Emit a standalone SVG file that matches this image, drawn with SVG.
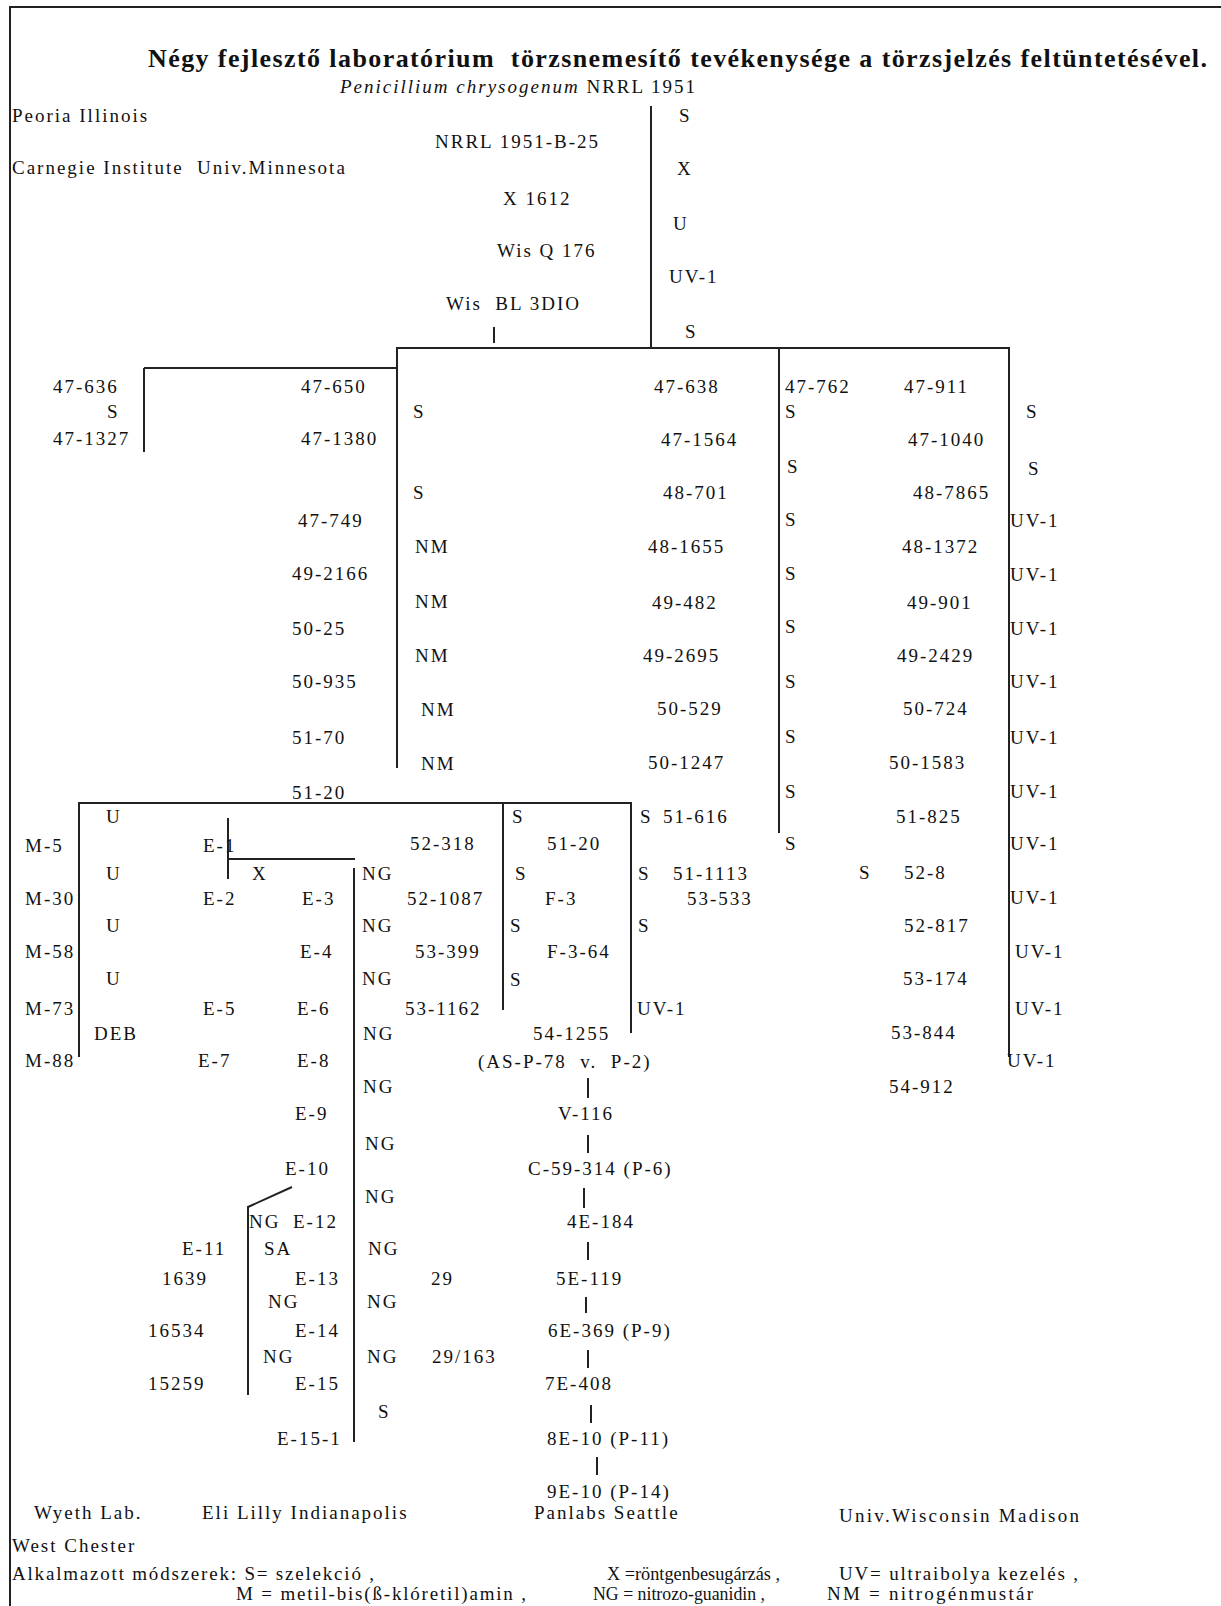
<svg xmlns="http://www.w3.org/2000/svg" width="1221" height="1606" viewBox="0 0 1221 1606">
<style>
text{font-family:"Liberation Serif","Times New Roman",serif;font-size:19px;letter-spacing:2px;fill:#111;white-space:pre}
.title{font-weight:bold;font-size:26px;letter-spacing:0}
.it{font-style:italic}
.f{letter-spacing:0}
#connectors line,#connectors polyline{stroke:#222;stroke-width:2;fill:none}
#frame line{stroke:#222;stroke-width:2}
</style>
<rect width="1221" height="1606" fill="#fff"/>
<g id="frame">
<line x1="10" y1="7" x2="1221" y2="7"/>
<line x1="10" y1="6" x2="10" y2="1606"/>
</g>
<g id="header">
<text class="title" x="148" y="67" textLength="1059">Négy fejlesztő laboratórium  törzsnemesítő tevékenysége a törzsjelzés feltüntetésével.</text>
<text x="340" y="93"><tspan class="it">Penicillium chrysogenum</tspan> NRRL 1951</text>
<text x="12" y="122">Peoria Illinois</text>
<text x="12" y="174">Carnegie Institute  Univ.Minnesota</text>
</g>
<g id="connectors">
<line x1="651" y1="106" x2="651" y2="348"/>
<line x1="494" y1="327" x2="494" y2="343"/>
<line x1="396" y1="348" x2="1009" y2="348"/>
<line x1="397" y1="348" x2="397" y2="768"/>
<line x1="144" y1="368" x2="397" y2="368"/>
<line x1="144" y1="368" x2="144" y2="452"/>
<line x1="779" y1="348" x2="779" y2="833"/>
<line x1="1009" y1="347" x2="1009" y2="1057"/>
<line x1="78" y1="803" x2="632" y2="803"/>
<line x1="79" y1="803" x2="79" y2="1057"/>
<line x1="503" y1="803" x2="503" y2="1010"/>
<line x1="631" y1="803" x2="631" y2="1033"/>
<line x1="228" y1="818" x2="228" y2="879"/>
<line x1="228" y1="859" x2="355" y2="859"/>
<line x1="354" y1="868" x2="354" y2="1442"/>
<polyline points="292,1187 248,1207 248,1395"/>
<line x1="588" y1="1078" x2="588" y2="1098"/>
<line x1="588" y1="1135" x2="588" y2="1153"/>
<line x1="584" y1="1188" x2="584" y2="1208"/>
<line x1="588" y1="1242" x2="588" y2="1260"/>
<line x1="586" y1="1297" x2="586" y2="1313"/>
<line x1="588" y1="1350" x2="588" y2="1368"/>
<line x1="591" y1="1405" x2="591" y2="1423"/>
<line x1="597" y1="1457" x2="597" y2="1475"/>
</g>
<g id="root-chain">
<g id="n-nrrl1951b25"><text x="435" y="148">NRRL 1951-B-25</text></g>
<g id="n-x1612"><text x="503" y="205">X 1612</text></g>
<g id="n-wisq176"><text x="497" y="257">Wis Q 176</text></g>
<g id="n-wisbl3dio"><text x="446" y="310">Wis  BL 3DIO</text></g>
<g id="m-root"><text x="679" y="122">S</text><text x="677" y="175">X</text><text x="673" y="230">U</text><text x="669" y="283">UV-1</text><text x="685" y="338">S</text></g>
</g>
<g id="carnegie">
<g id="n-47-636"><text x="53" y="393">47-636</text></g>
<g id="m-c1"><text x="107" y="418">S</text></g>
<g id="n-47-1327"><text x="53" y="445">47-1327</text></g>
<g id="n-47-650"><text x="301" y="393">47-650</text></g>
<g id="n-47-1380"><text x="301" y="445">47-1380</text></g>
<g id="n-47-749"><text x="298" y="527">47-749</text></g>
<g id="n-49-2166"><text x="292" y="580">49-2166</text></g>
<g id="n-50-25"><text x="292" y="635">50-25</text></g>
<g id="n-50-935"><text x="292" y="688">50-935</text></g>
<g id="n-51-70"><text x="292" y="744">51-70</text></g>
<g id="n-51-20a"><text x="292" y="799">51-20</text></g>
<g id="m-c2"><text x="413" y="418">S</text><text x="413" y="499">S</text><text x="415" y="553">NM</text><text x="415" y="608">NM</text><text x="415" y="662">NM</text><text x="421" y="716">NM</text><text x="421" y="770">NM</text></g>
</g>
<g id="peoria">
<g id="n-47-638"><text x="654" y="393">47-638</text></g>
<g id="n-47-1564"><text x="661" y="446">47-1564</text></g>
<g id="n-48-701"><text x="663" y="499">48-701</text></g>
<g id="n-48-1655"><text x="648" y="553">48-1655</text></g>
<g id="n-49-482"><text x="652" y="609">49-482</text></g>
<g id="n-49-2695"><text x="643" y="662">49-2695</text></g>
<g id="n-50-529"><text x="657" y="715">50-529</text></g>
<g id="n-50-1247"><text x="648" y="769">50-1247</text></g>
</g>
<g id="wisconsin">
<g id="n-47-762"><text x="785" y="393">47-762</text></g>
<g id="m-w1"><text x="785" y="418">S</text><text x="787" y="473">S</text><text x="785" y="526">S</text><text x="785" y="580">S</text><text x="785" y="633">S</text><text x="785" y="688">S</text><text x="785" y="743">S</text><text x="785" y="798">S</text><text x="785" y="850">S</text><text x="859" y="879">S</text></g>
<g id="n-47-911"><text x="904" y="393">47-911</text></g>
<g id="n-47-1040"><text x="908" y="446">47-1040</text></g>
<g id="n-48-7865"><text x="913" y="499">48-7865</text></g>
<g id="n-48-1372"><text x="902" y="553">48-1372</text></g>
<g id="n-49-901"><text x="907" y="609">49-901</text></g>
<g id="n-49-2429"><text x="897" y="662">49-2429</text></g>
<g id="n-50-724"><text x="903" y="715">50-724</text></g>
<g id="n-50-1583"><text x="889" y="769">50-1583</text></g>
<g id="n-51-825"><text x="896" y="823">51-825</text></g>
<g id="n-52-8"><text x="904" y="879">52-8</text></g>
<g id="n-52-817"><text x="904" y="932">52-817</text></g>
<g id="n-53-174"><text x="903" y="985">53-174</text></g>
<g id="n-53-844"><text x="891" y="1039">53-844</text></g>
<g id="n-54-912"><text x="889" y="1093">54-912</text></g>
<g id="m-w2"><text x="1026" y="418">S</text><text x="1028" y="475">S</text><text x="1010" y="527">UV-1</text><text x="1010" y="581">UV-1</text><text x="1010" y="635">UV-1</text><text x="1010" y="688">UV-1</text><text x="1010" y="744">UV-1</text><text x="1010" y="798">UV-1</text><text x="1010" y="850">UV-1</text><text x="1010" y="904">UV-1</text><text x="1015" y="958">UV-1</text><text x="1015" y="1015">UV-1</text><text x="1007" y="1067">UV-1</text></g>
</g>
<g id="panlabs">
<g id="m-p1"><text x="512" y="823">S</text><text x="515" y="880">S</text><text x="510" y="932">S</text><text x="510" y="986">S</text></g>
<g id="n-51-20b"><text x="547" y="850">51-20</text></g>
<g id="n-f3"><text x="545" y="905">F-3</text></g>
<g id="n-f3-64"><text x="547" y="958">F-3-64</text></g>
<g id="m-p2"><text x="640" y="823">S</text><text x="638" y="880">S</text><text x="638" y="932">S</text><text x="637" y="1015">UV-1</text></g>
<g id="n-51-616"><text x="663" y="823">51-616</text></g>
<g id="n-51-1113"><text x="673" y="880">51-1113</text></g>
<g id="n-53-533"><text x="687" y="905">53-533</text></g>
<g id="n-52-318"><text x="410" y="850">52-318</text></g>
<g id="n-52-1087"><text x="407" y="905">52-1087</text></g>
<g id="n-53-399"><text x="415" y="958">53-399</text></g>
<g id="n-53-1162"><text x="405" y="1015">53-1162</text></g>
<g id="n-54-1255"><text x="533" y="1040">54-1255</text></g>
<g id="n-asp78"><text x="478" y="1068">(AS-P-78  v.  P-2)</text></g>
<g id="n-v116"><text x="558" y="1120">V-116</text></g>
<g id="n-c59"><text x="528" y="1175">C-59-314 (P-6)</text></g>
<g id="n-4e184"><text x="567" y="1228">4E-184</text></g>
<g id="n-5e119"><text x="556" y="1285">5E-119</text></g>
<g id="n-6e369"><text x="548" y="1337">6E-369 (P-9)</text></g>
<g id="n-7e408"><text x="545" y="1390">7E-408</text></g>
<g id="n-8e10"><text x="547" y="1445">8E-10 (P-11)</text></g>
<g id="n-9e10"><text x="547" y="1498">9E-10 (P-14)</text></g>
</g>
<g id="wyeth">
<g id="m-y"><text x="106" y="823">U</text><text x="106" y="880">U</text><text x="106" y="932">U</text><text x="106" y="985">U</text><text x="94" y="1040">DEB</text></g>
<g id="n-m5"><text x="25" y="852">M-5</text></g>
<g id="n-m30"><text x="25" y="905">M-30</text></g>
<g id="n-m58"><text x="25" y="958">M-58</text></g>
<g id="n-m73"><text x="25" y="1015">M-73</text></g>
<g id="n-m88"><text x="25" y="1067">M-88</text></g>
</g>
<g id="lilly">
<g id="n-e1"><text x="203" y="852">E-1</text></g>
<g id="m-l0"><text x="252" y="880">X</text></g>
<g id="n-e2"><text x="203" y="905">E-2</text></g>
<g id="n-e3"><text x="302" y="905">E-3</text></g>
<g id="n-e4"><text x="300" y="958">E-4</text></g>
<g id="n-e5"><text x="203" y="1015">E-5</text></g>
<g id="n-e6"><text x="297" y="1015">E-6</text></g>
<g id="n-e7"><text x="198" y="1067">E-7</text></g>
<g id="n-e8"><text x="297" y="1067">E-8</text></g>
<g id="n-e9"><text x="295" y="1120">E-9</text></g>
<g id="n-e10"><text x="285" y="1175">E-10</text></g>
<g id="n-e12"><text x="293" y="1228">E-12</text></g>
<g id="n-e11"><text x="182" y="1255">E-11</text></g>
<g id="n-1639"><text x="162" y="1285">1639</text></g>
<g id="n-e13"><text x="295" y="1285">E-13</text></g>
<g id="n-16534"><text x="148" y="1337">16534</text></g>
<g id="n-e14"><text x="295" y="1337">E-14</text></g>
<g id="n-15259"><text x="148" y="1390">15259</text></g>
<g id="n-e15"><text x="295" y="1390">E-15</text></g>
<g id="n-e15-1"><text x="277" y="1445">E-15-1</text></g>
<g id="n-29"><text x="431" y="1285">29</text></g>
<g id="n-29-163"><text x="432" y="1363">29/163</text></g>
<g id="m-l1"><text x="249" y="1228">NG</text><text x="264" y="1255">SA</text><text x="268" y="1308">NG</text><text x="263" y="1363">NG</text></g>
<g id="m-l2"><text x="362" y="880">NG</text><text x="362" y="932">NG</text><text x="362" y="985">NG</text><text x="363" y="1040">NG</text><text x="363" y="1093">NG</text><text x="365" y="1150">NG</text><text x="365" y="1203">NG</text><text x="368" y="1255">NG</text><text x="367" y="1308">NG</text><text x="367" y="1363">NG</text><text x="378" y="1418">S</text></g>
</g>
<g id="footer">
<text x="34" y="1519">Wyeth Lab.</text>
<text x="202" y="1519">Eli Lilly Indianapolis</text>
<text x="534" y="1519">Panlabs Seattle</text>
<text class="f" x="839" y="1522" textLength="240">Univ.Wisconsin Madison</text>
<text x="12" y="1552">West Chester</text>
<text class="f" x="12" y="1580" textLength="362">Alkalmazott módszerek: S= szelekció ,</text>
<text class="f" x="607" y="1580" textLength="173" lengthAdjust="spacingAndGlyphs">X =röntgenbesugárzás ,</text>
<text class="f" x="839" y="1580" textLength="239">UV= ultraibolya kezelés ,</text>
<text class="f" x="236" y="1600" textLength="290">M = metil-bis(ß-klóretil)amin ,</text>
<text class="f" x="593" y="1600" textLength="172" lengthAdjust="spacingAndGlyphs">NG = nitrozo-guanidin ,</text>
<text class="f" x="827" y="1600" textLength="206">NM = nitrogénmustár</text>
</g>
</svg>
